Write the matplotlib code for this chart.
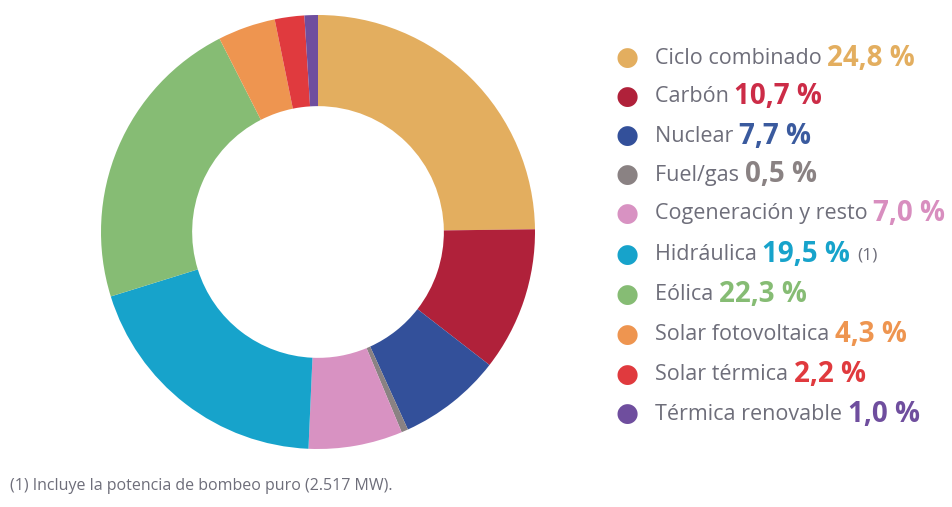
import matplotlib
matplotlib.use("Agg")
import matplotlib.pyplot as plt
from matplotlib import font_manager

# Installed capacity mix by technology (%)
labels = ["Ciclo combinado", "Carbón", "Nuclear", "Fuel/gas",
          "Cogeneración y resto", "Hidráulica", "Eólica",
          "Solar fotovoltaica", "Solar térmica", "Térmica renovable"]
values = [24.8, 10.7, 7.7, 0.5, 7.0, 19.5, 22.3, 4.3, 2.2, 1.0]
value_texts = ["24,8 %", "10,7 %", "7,7 %", "0,5 %", "7,0 %",
               "19,5 %", "22,3 %", "4,3 %", "2,2 %", "1,0 %"]
notes = ["", "", "", "", "", "(1)", "", "", "", ""]
colors = ["#E3AE5F", "#B0213A", "#33509A", "#8A8283", "#D892C2",
          "#17A3CB", "#86BC74", "#EE9550", "#E03A3E", "#6F4E9E"]
value_colors = ["#E3AE5F", "#CC2C47", "#3A5A9E", "#8A8283", "#D88EBF",
                "#17A3CB", "#86BC74", "#EE9550", "#E03A3E", "#6F4E9E"]
footnote = "(1) Incluye la potencia de bombeo puro (2.517 MW)."

installed = {f.name for f in font_manager.fontManager.ttflist}
fam = "Liberation Sans Narrow" if "Liberation Sans Narrow" in installed else "Open Sans"
fam_list = [fam, "DejaVu Sans"]

W, H = 953, 507
fig = plt.figure(figsize=(W / 100, H / 100), dpi=100)
fig.patch.set_facecolor("white")

# Donut
cx, cy, r = 318, 232, 217
ax = fig.add_axes([(cx - r) / W, (H - cy - r) / H, 2 * r / W, 2 * r / H])
ax.pie(values, colors=colors, startangle=90, counterclock=False,
       radius=1.0, wedgeprops=dict(width=0.42, linewidth=0))
ax.set_xlim(-1, 1)
ax.set_ylim(-1, 1)
ax.set_aspect("equal")
ax.axis("off")

# Legend rows: dot, grey label, coloured bold value
label_color = "#6E6E7A"
row_y = [58, 97, 136, 175, 214, 255, 295, 335, 375, 414]
dot_x = 627
text_x = 655

fig.canvas.draw()
renderer = fig.canvas.get_renderer()
for i, lab in enumerate(labels):
    yf = 1 - row_y[i] / H
    fig.text(dot_x / W, yf, "●", color=colors[i], fontsize=19,
             ha="center", va="center", family="DejaVu Sans")
    t1 = fig.text(text_x / W, yf, lab + " ", color=label_color,
                  fontsize=15.5, ha="left", va="center", family=fam_list)
    bb = t1.get_window_extent(renderer)
    t2 = fig.text(bb.x1 / W, yf, value_texts[i], color=value_colors[i],
                  fontsize=20, fontweight="bold", ha="left", va="center",
                  family=fam_list)
    if notes[i]:
        bb2 = t2.get_window_extent(renderer)
        fig.text((bb2.x1 + 7) / W, yf, notes[i], color=label_color,
                 fontsize=12.5, ha="left", va="center", family=fam_list)

fig.text(10 / W, 1 - 486 / H, footnote, color="#6E6E7A", fontsize=11.5,
         ha="left", va="center", family=fam_list)

fig.savefig("out.png", dpi=100, facecolor="white")
